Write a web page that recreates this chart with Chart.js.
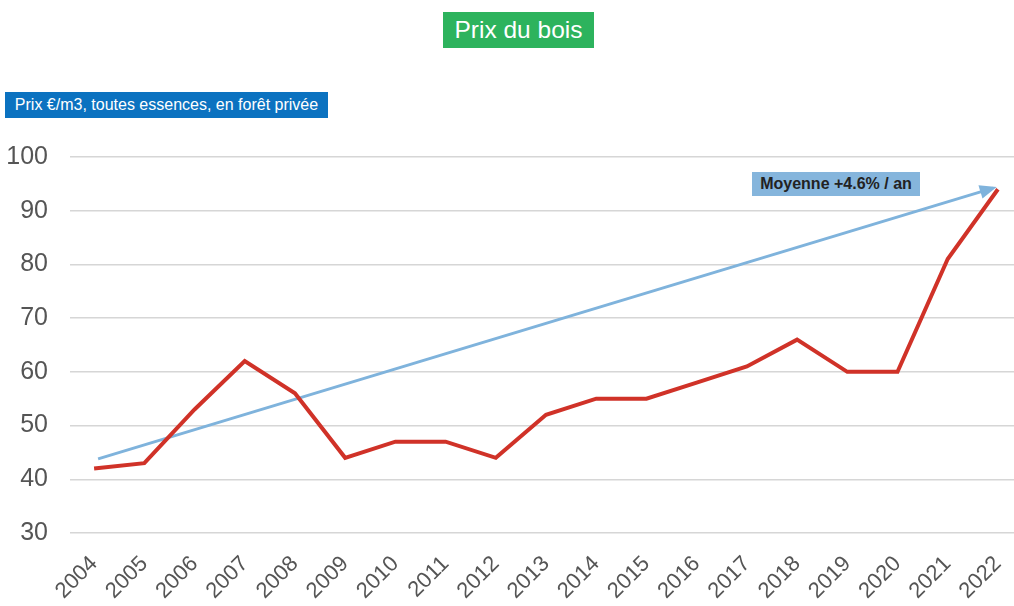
<!DOCTYPE html>
<html>
<head>
<meta charset="utf-8">
<script src="https://cdn.jsdelivr.net/npm/chart.js@4/dist/chart.umd.min.js"></script>
<style>
  html, body { margin: 0; padding: 0; background: #fff; }
  #wrap { position: relative; width: 1014px; height: 606px; font-family: "Liberation Sans", Arial, sans-serif; }
  #title { position: absolute; left: 443px; top: 12px; width: 151px; height: 36px; background: #2db35d;
    color: #fff; font-size: 24.5px; line-height: 36px; text-align: center; }
  #unit { position: absolute; left: 5px; top: 92px; width: 323px; height: 26px; background: #0b72c0;
    color: #fff; font-size: 16px; line-height: 26px; text-align: center; }
  #note { position: absolute; left: 752px; top: 172px; width: 168px; height: 24px; background: #85b5dc;
    color: #222; font-size: 16px; font-weight: bold; line-height: 24px; text-align: center; }
  canvas { position: absolute; left: 0; top: 0; }
</style>
</head>
<body>
<div id="wrap">
  <canvas id="woodChart" width="1014" height="606"></canvas>
  <div id="title">Prix du bois</div>
  <div id="unit">Prix €/m3, toutes essences, en forêt privée</div>
  <div id="note">Moyenne +4.6% / an</div>
</div>
<script>
const years = [2004, 2005, 2006, 2007, 2008, 2009, 2010, 2011, 2012, 2013, 2014, 2015, 2016, 2017, 2018, 2019, 2020, 2021, 2022];
const prices = [42, 43, 53, 62, 56, 44, 47, 47, 44, 52, 55, 55, 58, 61, 66, 60, 60, 81, 94];
// trend arrow: start and end only
const trendYears = [2004.08, 2021.9];
const trendValues = [43.8, 94.2];
const yTicks = [30, 40, 50, 60, 70, 80, 90, 100];

// draws the arrow head at the end of the trend line
const arrowHead = {
  id: 'arrowHead',
  afterDatasetsDraw(chart) {
    const pts = chart.getDatasetMeta(1).data;
    const a = pts[pts.length - 2], b = pts[pts.length - 1];
    const ang = Math.atan2(b.y - a.y, b.x - a.x);
    const ctx = chart.ctx;
    ctx.save();
    ctx.fillStyle = '#7fb3dc';
    ctx.translate(b.x, b.y);
    ctx.rotate(ang);
    ctx.beginPath();
    ctx.moveTo(4, 0);
    ctx.lineTo(-13, -7);
    ctx.lineTo(-13, 7);
    ctx.closePath();
    ctx.fill();
    ctx.restore();
  }
};

new Chart(document.getElementById('woodChart').getContext('2d'), {
  type: 'line',
  data: {
    datasets: [
      {
        label: 'Prix',
        data: years.map((y, i) => ({ x: y, y: prices[i] })),
        borderColor: '#d03228',
        borderWidth: 4,
        pointRadius: 0,
        tension: 0,
      },
      {
        label: 'Tendance',
        data: trendYears.map((y, i) => ({ x: y, y: trendValues[i] })),
        borderColor: '#7fb3dc',
        borderWidth: 3,
        pointRadius: 0,
      },
    ],
  },
  options: {
    responsive: false,
    animation: false,
    layout: { padding: { top: 157, right: 0, bottom: 0, left: 0 } },
    plugins: {
      legend: { display: false },
      tooltip: { enabled: false },
    },
    scales: {
      x: {
        type: 'linear',
        min: 2003.52,
        max: 2022.32,
        afterBuildTicks: (scale) => { scale.ticks = years.map((v) => ({ value: v })); },
        afterFit: (scale) => { scale.height = 73; scale.paddingLeft = 0; scale.paddingRight = 0; },
        grid: { display: false },
        border: { display: false },
        ticks: {
          callback: (v) => String(v),
          autoSkip: false,
          minRotation: 45,
          maxRotation: 45,
          padding: 10,
          color: '#555',
          font: { family: 'Liberation Sans', size: 22 },
        },
      },
      y: {
        min: 30,
        max: 100,
        afterBuildTicks: (scale) => { scale.ticks = yTicks.map((v) => ({ value: v })); },
        afterFit: (scale) => { scale.width = 70; },
        grid: { color: '#d6d6d6', lineWidth: 1.5, drawTicks: false },
        border: { display: false },
        ticks: {
          padding: 22,
          color: '#555',
          font: { family: 'Liberation Sans', size: 25 },
        },
      },
    },
  },
  plugins: [arrowHead],
});
</script>
</body>
</html>
